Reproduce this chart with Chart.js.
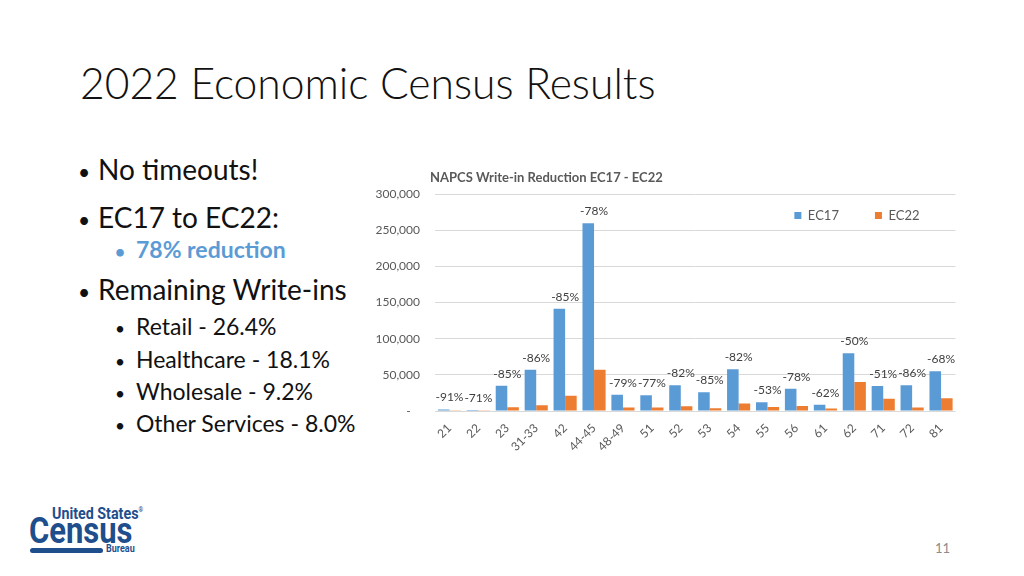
<!DOCTYPE html>
<html>
<head>
<meta charset="utf-8">
<title>2022 Economic Census Results</title>
<script src="https://cdn.jsdelivr.net/npm/chart.js@4.4.1/dist/chart.umd.min.js"></script>
<style>
  html, body { margin: 0; padding: 0; background: #fff; }
  body { width: 1024px; height: 576px; position: relative; overflow: hidden; font-family: Lato, "Open Sans", sans-serif; color: #111; }
  .ln { position: absolute; white-space: nowrap; line-height: 1; }
  .title { left: 80px; top: 62px; font-size: 42.6px; font-weight: 300; }
  .main { font-size: 28px; left: 78px; }
  .sub { font-size: 23px; left: 115px; }
  .dot { display: inline-block; font-size: 0.75em; }
  .main .dot { width: 20px; }
  .sub .dot { width: 21px; }
  .blue { color: #5b9bd5; font-weight: 700; }
  #chartBox { position: absolute; left: 360px; top: 160px; width: 610px; height: 305px; }
  .logo { position: absolute; color: #1f4e8c; font-family: Roboto, sans-serif; font-weight: 700; white-space: nowrap; line-height: 1; transform-origin: left top; }
  .pg { position: absolute; left: 935px; top: 542px; font-size: 13px; color: #8b8b8b; }
</style>
</head>
<body>
<div class="ln title">2022 Economic Census Results</div>

<div class="ln main" style="top:155px"><span class="dot">•</span>No timeouts!</div>
<div class="ln main" style="top:203px"><span class="dot">•</span>EC17 to EC22:</div>
<div class="ln sub blue" style="top:238px"><span class="dot">•</span>78% reduction</div>
<div class="ln main" style="top:275px"><span class="dot">•</span>Remaining Write-ins</div>
<div class="ln sub" style="top:315px"><span class="dot">•</span>Retail - 26.4%</div>
<div class="ln sub" style="top:348px"><span class="dot">•</span>Healthcare - 18.1%</div>
<div class="ln sub" style="top:380px"><span class="dot">•</span>Wholesale - 9.2%</div>
<div class="ln sub" style="top:412px"><span class="dot">•</span>Other Services - 8.0%</div>

<div id="chartBox"><canvas id="bars"></canvas></div>

<div class="logo" style="left:52px; top:505px; font-size:17px; transform:scaleX(0.84)">United States<sup style="font-size:7px">®</sup></div>
<div class="logo" style="left:29px; top:513px; font-size:36px; transform:scaleX(0.86)">Census</div>
<div style="position:absolute; left:30px; top:548px; width:73px; height:5px; border-radius:3px; background:#1f4e8c"></div>
<div class="logo" style="left:106px; top:544px; font-size:10px; transform:scaleX(0.9)">Bureau</div>

<div class="ln pg">11</div>

<script>
const categories = ['21', '22', '23', '31-33', '42', '44-45', '48-49', '51', '52', '53', '54', '55', '56', '61', '62', '71', '72', '81'];
const ec17 = [2000, 1400, 35000, 57100, 141400, 259400, 22600, 21700, 35500, 25800, 57600, 12000, 30900, 8800, 79700, 34600, 35500, 54800];
const ec22 = [180, 400, 5200, 8000, 21000, 57000, 4800, 5000, 6400, 3900, 10400, 5600, 6800, 3300, 40000, 17000, 5000, 17500];
const pctLabels = ['-91%', '-71%', '-85%', '-86%', '-85%', '-78%', '-79%', '-77%', '-82%', '-85%', '-82%', '-53%', '-78%', '-62%', '-50%', '-51%', '-86%', '-68%'];
const yMax = 300000;
const yStep = 50000;

const grey = '#595959';
Chart.defaults.font.family = 'Lato';
Chart.defaults.color = grey;

// percent change written above each category pair
const pctPlugin = {
  id: 'pctLabels',
  afterDatasetsDraw(chart) {
    const ctx = chart.ctx;
    const a = chart.getDatasetMeta(0).data;
    const b = chart.getDatasetMeta(1).data;
    ctx.save();
    ctx.font = '12px Lato';
    ctx.fillStyle = '#404040';
    ctx.textAlign = 'center';
    ctx.textBaseline = 'middle';
    a.forEach((bar, i) => {
      ctx.fillText(pctLabels[i], (bar.x + b[i].x) / 2, Math.min(bar.y, b[i].y) - 12);
    });
    ctx.restore();
  }
};

// title starts over the plot, legend sits inside the plot at top right
const placeBoxes = {
  id: 'placeBoxes',
  afterLayout(chart) {
    chart.titleBlock.left = chart.chartArea.left - 5;
    const lg = chart.legend;
    const pad = lg.options.labels.padding;
    const dy = chart.chartArea.top + 21.5 - (lg.top + pad + 6.5);
    lg.top += dy;
    lg.bottom = lg.top + pad + 24;
    lg.height = lg.bottom - lg.top;
  }
};

new Chart(document.getElementById('bars'), {
  type: 'bar',
  data: {
    labels: categories,
    datasets: [
      { label: 'EC17', data: ec17, backgroundColor: '#5b9bd5', barPercentage: 1, categoryPercentage: 0.8 },
      { label: 'EC22', data: ec22, backgroundColor: '#ed7d31', barPercentage: 1, categoryPercentage: 0.8 }
    ]
  },
  options: {
    responsive: true,
    maintainAspectRatio: false,
    animation: false,
    layout: { padding: { left: 0, right: 14.5, top: 0, bottom: 0 } },
    plugins: {
      title: {
        display: true,
        text: 'NAPCS Write-in Reduction EC17 - EC22',
        align: 'start',
        color: grey,
        font: { size: 13, weight: 'bold' },
        padding: { top: 10.2, bottom: 7.2 }
      },
      legend: {
        position: 'top',
        align: 'end',
        maxHeight: 1,
        labels: { boxWidth: 7, boxHeight: 7, padding: 36, color: grey, font: { size: 13 } }
      },
      tooltip: { enabled: false }
    },
    scales: {
      x: {
        grid: { display: false, drawTicks: false },
        border: { display: false },
        ticks: { autoSkip: false, minRotation: 45, maxRotation: 45, padding: 10, color: grey, font: { size: 12 } },
        afterFit(scale) { scale.height = 54; }
      },
      y: {
        min: 0,
        max: yMax,
        grid: { color: '#d9d9d9', drawTicks: false },
        border: { display: false },
        ticks: {
          stepSize: yStep,
          padding: 15,
          color: grey,
          font: { size: 12 },
          callback: (v) => v === 0 ? '-   ' : v.toLocaleString('en-US')
        },
        afterFit(scale) { scale.width = 75; }
      }
    }
  },
  plugins: [pctPlugin, placeBoxes]
});
</script>
</body>
</html>
